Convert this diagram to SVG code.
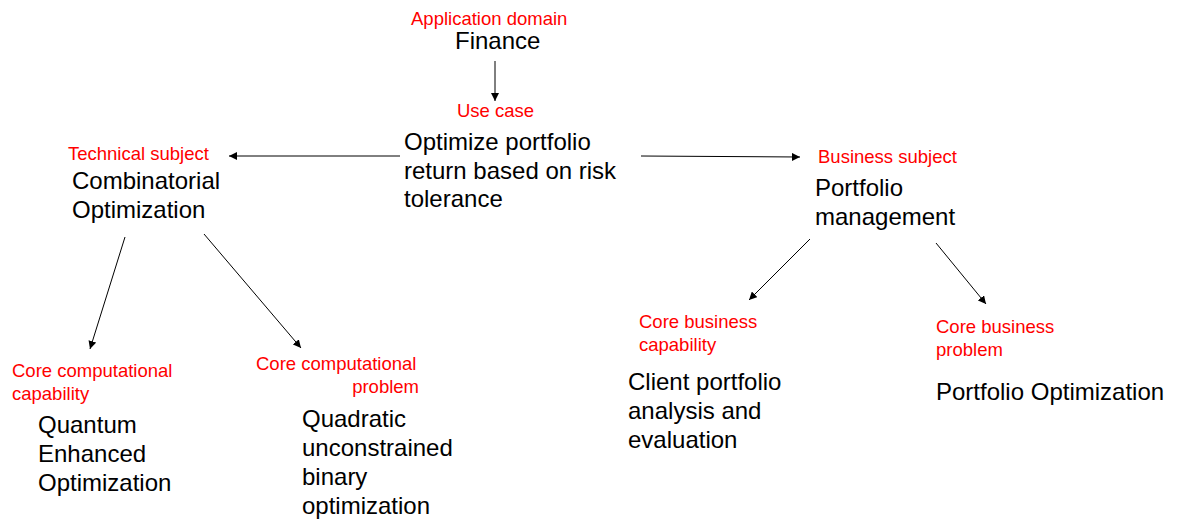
<svg xmlns="http://www.w3.org/2000/svg" width="1178" height="527" viewBox="0 0 1178 527">
<style>
.lbl{font-family:"Liberation Sans",Arial,sans-serif;font-size:18.5px;fill:#ff0000}
.txt{font-family:"Liberation Sans",Arial,sans-serif;font-size:24px;fill:#000}
.conn{stroke:#000;stroke-width:1;fill:none;marker-end:url(#ah)}
</style>
<defs>
<marker id="ah" viewBox="0 0 10 10" refX="10" refY="5" markerWidth="8" markerHeight="8" markerUnits="userSpaceOnUse" orient="auto">
<path d="M0,0L10,5L0,10z" fill="#000"/>
</marker>
</defs>
<rect width="1178" height="527" fill="#fff"/>
<g id="connectors">
<line class="conn" x1="495" y1="61" x2="495" y2="101"/>
<line class="conn" x1="400" y1="156" x2="229" y2="156"/>
<line class="conn" x1="641" y1="156" x2="800" y2="157"/>
<line class="conn" x1="125" y1="237" x2="90" y2="349"/>
<line class="conn" x1="204" y1="234" x2="301" y2="348"/>
<line class="conn" x1="810" y1="239" x2="749" y2="300"/>
<line class="conn" x1="936" y1="243" x2="986" y2="304"/>
</g>
<g id="finance">
<text class="lbl" x="411" y="25">Application domain</text>
<text class="txt" x="455" y="49">Finance</text>
</g>
<g id="usecase">
<text class="lbl" x="457" y="117">Use case</text>
<text class="txt" x="404" y="150">Optimize portfolio</text>
<text class="txt" x="404" y="179">return based on risk</text>
<text class="txt" x="404" y="207">tolerance</text>
</g>
<g id="technical">
<text class="lbl" x="68" y="160">Technical subject</text>
<text class="txt" x="72" y="189">Combinatorial</text>
<text class="txt" x="72" y="218">Optimization</text>
</g>
<g id="capability">
<text class="lbl" x="12" y="377">Core computational</text>
<text class="lbl" x="12" y="400">capability</text>
<text class="txt" x="38" y="433">Quantum</text>
<text class="txt" x="38" y="462">Enhanced</text>
<text class="txt" x="38" y="491">Optimization</text>
</g>
<g id="problem">
<text class="lbl" x="256" y="370">Core computational</text>
<text class="lbl" x="419" y="393" text-anchor="end">problem</text>
<text class="txt" x="302" y="427">Quadratic</text>
<text class="txt" x="302" y="456">unconstrained</text>
<text class="txt" x="302" y="485">binary</text>
<text class="txt" x="302" y="514">optimization</text>
</g>
<g id="business">
<text class="lbl" x="818" y="163">Business subject</text>
<text class="txt" x="815" y="196">Portfolio</text>
<text class="txt" x="815" y="225">management</text>
</g>
<g id="bizcapability">
<text class="lbl" x="639" y="328">Core business</text>
<text class="lbl" x="639" y="351">capability</text>
<text class="txt" x="628" y="390">Client portfolio</text>
<text class="txt" x="628" y="419">analysis and</text>
<text class="txt" x="628" y="448">evaluation</text>
</g>
<g id="bizproblem">
<text class="lbl" x="936" y="333">Core business</text>
<text class="lbl" x="936" y="356">problem</text>
<text class="txt" x="936" y="400">Portfolio Optimization</text>
</g>
</svg>
